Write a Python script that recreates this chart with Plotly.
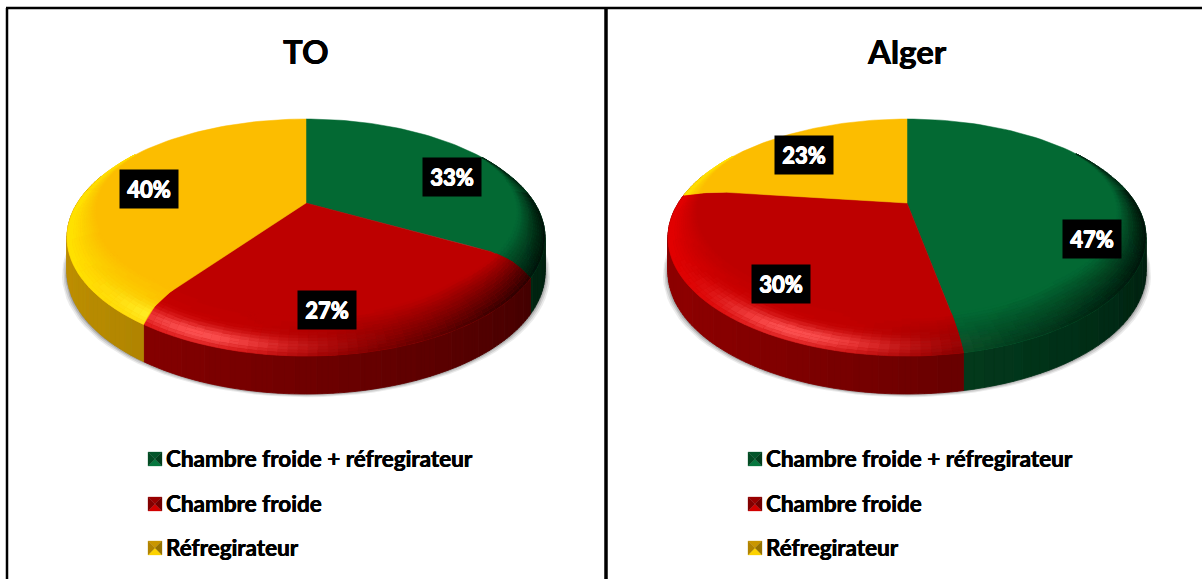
import numpy as np
import plotly.graph_objects as go

# values
CATEGORIES = ["Chambre froide + réfregirateur", "Chambre froide", "Réfregirateur"]
TITLES = ["TO", "Alger"]
TO_VALUES = [33, 27, 40]
ALGER_VALUES = [47, 30, 23]
BASE_COLORS = [(3, 106, 52), (190, 0, 0), (251, 189, 0)]
BRIGHT_COLORS = [(10, 130, 70), (225, 0, 0), (255, 225, 0)]

# page geometry, in pixels of the 1202x579 picture
CENTER_X = [306, 907]
APEX_Y = 203
TOP_Y = 119
FRONT_Y = 356
HALF_WIDTH = 239
BEVEL_START = 0.78
LABEL_POS = [[(452, 177), (327, 310), (149, 189)], [(1092, 239), (781, 284), (804, 155)]]
LEGEND_X = [148, 748]
LEGEND_Y = [458, 503, 547]

# perspective of a unit disc lying flat, fixed by the three y positions above
K = (TOP_Y + FRONT_Y - 2 * APEX_Y) * -1.0 / (TOP_Y - FRONT_Y)
B = TOP_Y + TOP_Y * K - APEX_Y
A = HALF_WIDTH * np.sqrt(1 - K * K)


def project(cx, r, theta):
    u = r * np.sin(np.radians(theta))
    v = r * np.cos(np.radians(theta))
    d = 1 + K * v
    return cx + A * u / d, (APEX_Y + B * v) / d


def bend(theta, r):
    # slice edges curl towards the viewer where they run over the rounded rim
    rad = np.radians(theta)
    s = np.sin(rad)
    shift = 8 * s * np.sqrt(np.abs(s)) * np.clip(0.5 - np.cos(rad), 0, 1)
    return theta + shift * (np.clip((r - BEVEL_START) / (1 - BEVEL_START), 0, 1) ** 2)


def wall_height(theta):
    return 33 - 5 * np.cos(np.radians(theta))


def mix(c1, c2, t):
    t = min(max(t, 0), 1)
    return tuple(c1[i] + (c2[i] - c1[i]) * t for i in range(3))


def to_hex(c):
    return "#%02x%02x%02x" % tuple(int(min(255, round(x / 3) * 3)) for x in c)


def bevel_color(i, theta, t):
    base = BASE_COLORS[i]
    light = np.cos(np.radians(theta - 280))
    if light < 0:
        col = mix(base, (0, 0, 0), -light * 0.85 * t)
    else:
        col = mix(base, BRIGHT_COLORS[i], light * 1.3 * t)
    spec = np.exp(-(((theta - 203) / 20) ** 2)) * np.exp(-(((t - 0.78) / 0.22) ** 2))
    hi = (255, 255, 60) if i == 2 else (255, 85, 85)
    return mix(col, hi, spec * 0.95)


def wall_color(i, theta):
    f = 0.5 + 0.25 * np.cos(np.radians(theta - 250))
    return tuple(x * f for x in BASE_COLORS[i])


def add_polys(fig, polys, color, line=0.8):
    xs, ys = [], []
    for px, py in polys:
        xs += list(px) + [px[0], None]
        ys += list(py) + [py[0], None]
    fig.add_trace(go.Scatter(x=xs, y=ys, mode="lines", fill="toself", fillcolor=color,
                             line=dict(color=color, width=line), hoverinfo="skip", showlegend=False))


def draw_pie(fig, cx, values):
    ang = 360 * np.cumsum([0] + values) / sum(values)
    all_t = np.arange(0, 361, 3.0)

    # soft shadow under the pie
    for grow, off, alpha in [(5, 4, 0.10), (3.5, 3, 0.15), (2, 2, 0.2), (1, 1, 0.25)]:
        sx, sy = project(cx, 1, all_t)
        sx = cx + (sx - cx) * (1 + grow / HALF_WIDTH)
        sy = sy + wall_height(all_t) * 0.98 + off
        add_polys(fig, [(sx, sy)], "rgba(60,60,60,%.2f)" % alpha, line=0)

    # side wall, cut at the bent slice edges
    walls = {}
    for i in range(3):
        rim = np.linspace(bend(ang[i], 1), bend(ang[i + 1], 1), 90)
        for t0, t1 in zip(rim[:-1], rim[1:]):
            if 75 < t0 % 360 < 285:
                x0, y0 = project(cx, 1, t0)
                x1, y1 = project(cx, 1, t1)
                poly = ([x0, x1, x1, x0], [y0, y1, y1 + wall_height(t1), y0 + wall_height(t0)])
                walls.setdefault(to_hex(wall_color(i, (t0 + t1) / 2)), []).append(poly)
    for color, polys in walls.items():
        add_polys(fig, polys, color)

    # flat top of each slice, then the bevel along its rim
    radii = np.linspace(0, 1, 12)
    for i in range(3):
        t_start, t_end = ang[i], ang[i + 1]
        rx, ry = project(cx, 1, np.linspace(bend(t_start, 1), bend(t_end, 1), 80))
        ax, ay = project(cx, radii, bend(t_start, radii))
        bx, by = project(cx, radii[::-1], bend(t_end, radii[::-1]))
        add_polys(fig, [(np.r_[ax, rx, bx], np.r_[ay, ry, by])], to_hex(BASE_COLORS[i]), line=0.5)

        rings = {}
        fracs = np.linspace(0, 1, max(int((t_end - t_start) / 2), 2) + 1)
        steps = np.linspace(0, 1, 15)

        def place(frac, r):
            lo, hi = bend(t_start, r), bend(t_end, r)
            return project(cx, r, lo + (hi - lo) * frac)

        for f0, f1 in zip(fracs[:-1], fracs[1:]):
            mid = t_start + (t_end - t_start) * (f0 + f1) / 2
            width = 0.2 * np.clip((0.55 - np.cos(np.radians(mid))) / 1.3, 0, 1)
            if width < 0.005:
                continue
            for s0, s1 in zip(steps[:-1], steps[1:]):
                r0, r1 = 1 - width * (1 - s0), 1 - width * (1 - s1)
                p = [place(f0, r0), place(f1, r0), place(f1, r1), place(f0, r1)]
                poly = ([q[0] for q in p], [q[1] for q in p])
                rings.setdefault(to_hex(bevel_color(i, mid, (s0 + s1) / 2)), []).append(poly)
        for color, polys in rings.items():
            add_polys(fig, polys, color, line=0.4)


def draw_swatch(fig, x, y, i):
    # small bevelled square of the legend
    s = 14
    base = BASE_COLORS[i]
    cx, cy = x + s / 2, y
    x0, x1, y0, y1 = x, x + s, y - s / 2, y + s / 2
    add_polys(fig, [([x0, x1, cx], [y1, y1, cy])], to_hex(mix(base, BRIGHT_COLORS[i], 0.6)), line=0.3)
    add_polys(fig, [([x0, x1, cx], [y0, y0, cy])], to_hex(mix(base, (0, 0, 0), 0.2)), line=0.3)
    add_polys(fig, [([x0, x0, cx], [y0, y1, cy])], to_hex(mix(base, (0, 0, 0), 0.3)), line=0.3)
    add_polys(fig, [([x1, x1, cx], [y0, y1, cy])], to_hex(mix(base, (0, 0, 0), 0.4)), line=0.3)


THICK_WHITE = "0.5px 0 0 white, -0.5px 0 0 white, 0 0.5px 0 white, 0 -0.5px 0 white"
THICK_BLACK = "0.3px 0 0 black, -0.3px 0 0 black"

fig = go.Figure()
annotations = []
for p, values in enumerate([TO_VALUES, ALGER_VALUES]):
    draw_pie(fig, CENTER_X[p], values)
    annotations.append(dict(x=CENTER_X[p], y=51, text="<b>%s</b>" % TITLES[p], showarrow=False,
                            font=dict(family="Lato", size=33, color="black", shadow=THICK_BLACK)))
    for i, v in enumerate(values):
        lx, ly = LABEL_POS[p][i]
        annotations.append(dict(x=lx, y=ly, text="<b>%d%%</b>" % v, showarrow=False, width=58, height=38,
                                bgcolor="black", borderpad=0, valign="middle", align="center",
                                font=dict(family="Lato", size=22, color="white", shadow=THICK_WHITE)))
    for i, name in enumerate(CATEGORIES):
        draw_swatch(fig, LEGEND_X[p], LEGEND_Y[i] + 1, i)
        annotations.append(dict(x=LEGEND_X[p] + 16, y=LEGEND_Y[i], text="<b>%s</b>" % name, showarrow=False,
                                xanchor="left", font=dict(family="Lato", size=22.5, color="black", shadow=THICK_BLACK)))

frame = [(6, 8, 1202, 8, 2.5), (7, 8, 7, 579, 2.5), (606, 8, 606, 579, 3.5)]
shapes = [dict(type="line", x0=a, y0=b, x1=c, y1=d, line=dict(color="black", width=w)) for a, b, c, d, w in frame]

fig.update_layout(
    width=1202, height=579, margin=dict(l=0, r=0, t=0, b=0),
    paper_bgcolor="white", plot_bgcolor="white", showlegend=False,
    xaxis=dict(range=[0, 1202], visible=False, fixedrange=True),
    yaxis=dict(range=[579, 0], visible=False, fixedrange=True),
    annotations=annotations, shapes=shapes,
)
# the page's default body margin would push the figure 8px off
fig.write_html("out.html", config=dict(displayModeBar=False),
               post_script="document.body.style.margin='0';document.body.style.overflow='hidden';")
